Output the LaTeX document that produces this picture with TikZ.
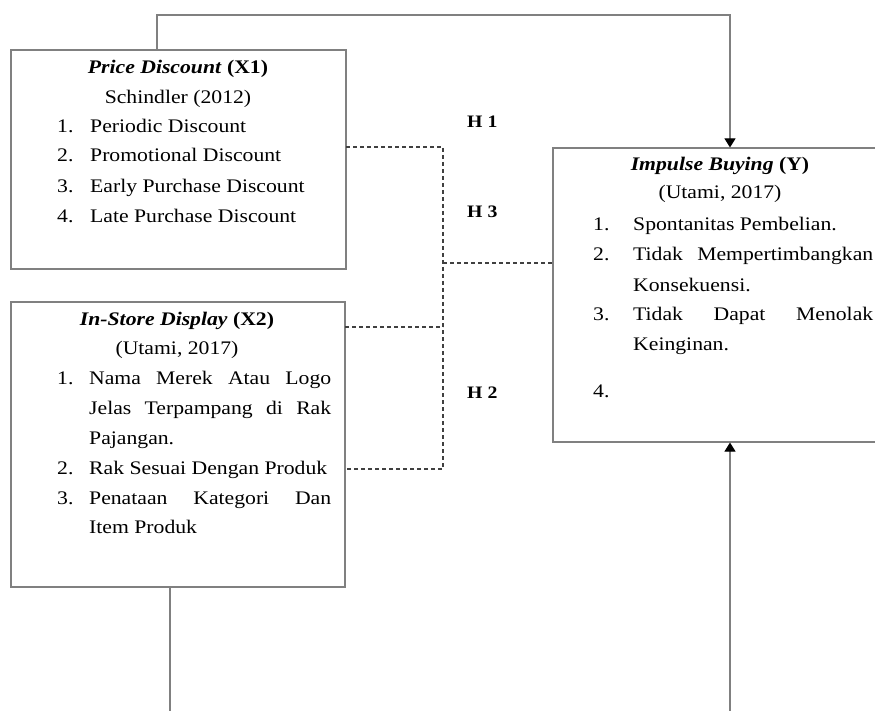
\documentclass[tikz,border=0pt]{standalone}
\usepackage{fontspec}
\setmainfont{Liberation Serif}[FakeStretch=1.13]
\usetikzlibrary{arrows.meta}
\begin{document}
\begin{tikzpicture}[x=1pt,y=-1pt,
  box/.style={draw=black!50,line width=1.1pt,inner sep=0,fill=none},
  txt/.style={anchor=base west,inner sep=0,text=black,font=\fontsize{19.2}{23}\selectfont},
  ctxt/.style={anchor=base,inner sep=0,text=black,font=\fontsize{19.2}{23}\selectfont},
  hlab/.style={anchor=base west,inner sep=0,text=black,font=\fontsize{17.5}{21}\selectfont\bfseries},
  link/.style={draw=black!50,line width=1.1pt},
  dlink/.style={draw=black!75,line width=1.1pt,dash pattern=on 4pt off 3pt},
  arr/.style={link,-{Triangle[width=11pt,length=9pt,fill=black,color=black]}}]
\useasboundingbox (0,0) rectangle (875,711);
\clip (0,0) rectangle (875,711);
\fill[white] (0,0) rectangle (875,711);

% boxes
\node[box,minimum width=335pt,minimum height=219pt] (x1) at (178.5,159.5) {};
\node[box,minimum width=334pt,minimum height=285pt] (x2) at (178,444.5) {};
\node[box,minimum width=354pt,minimum height=294pt] (y) at (730,295) {};

% X1 text
\node[ctxt] (x1t) at (178,74) {\textbf{\textit{Price Discount}} \textbf{(X1)}};
\node[ctxt] (x1s) at (178,104) {Schindler (2012)};
\node[txt] (x1n1) at (57,133) {1.};
\node[txt] (x1a) at (90,133) {Periodic Discount};
\node[txt] (x1n2) at (57,162) {2.};
\node[txt] (x1b) at (90,162) {Promotional Discount};
\node[txt] (x1n3) at (57,193) {3.};
\node[txt] (x1c) at (90,193) {Early Purchase Discount};
\node[txt] (x1n4) at (57,223) {4.};
\node[txt] (x1d) at (90,223) {Late Purchase Discount};

% X2 text
\node[ctxt] (x2t) at (177,325) {\textbf{\textit{In-Store Display}} \textbf{(X2)}};
\node[ctxt] (x2s) at (177,354) {(Utami, 2017)};
\node[txt] (x2n1) at (57,384) {1.};
\node[txt] (x2a) at (89,384) {\makebox[242pt][s]{Nama Merek Atau Logo}};
\node[txt] (x2b) at (89,414) {\makebox[242pt][s]{Jelas Terpampang di Rak}};
\node[txt] (x2c) at (89,444) {Pajangan.};
\node[txt] (x2n2) at (57,474) {2.};
\node[txt] (x2d) at (89,474) {Rak Sesuai Dengan Produk};
\node[txt] (x2n3) at (57,504) {3.};
\node[txt] (x2e) at (89,504) {\makebox[242pt][s]{Penataan Kategori Dan}};
\node[txt] (x2f) at (89,533) {Item Produk};

% Y text
\node[ctxt] (yt) at (720,171) {\textbf{\textit{Impulse Buying}} \textbf{(Y)}};
\node[ctxt] (ys) at (720,199) {(Utami, 2017)};
\node[txt] (yn1) at (593,231) {1.};
\node[txt] (ya) at (633,231) {Spontanitas Pembelian.};
\node[txt] (yn2) at (593,261) {2.};
\node[txt] (yb) at (633,261) {\makebox[240pt][s]{Tidak Mempertimbangkan}};
\node[txt] (yc) at (633,291) {Konsekuensi.};
\node[txt] (yn3) at (593,320) {3.};
\node[txt] (yd) at (633,320) {\makebox[240pt][s]{Tidak Dapat Menolak}};
\node[txt] (ye) at (633,350) {Keinginan.};
\node[txt] (yn4) at (593,397) {4.};

% hypothesis labels
\node[hlab] (h1) at (467,128) {H 1};
\node[hlab] (h3) at (467,218) {H 3};
\node[hlab] (h2) at (467,398) {H 2};

% coordinates for connectors
\coordinate (x1top) at (157,50);
\coordinate (x2bot) at (170,587);
\coordinate (d1) at (346,147);
\coordinate (d2) at (345,327);
\coordinate (d3) at (345,469);
\coordinate (dv) at (443,147);
\coordinate (dvb) at (443,469);
\coordinate (dm) at (443,263);
\coordinate (yin) at (553,263);

% solid connectors
\draw[arr] (x1top) -- (157,15) -| (y.north);
\draw[arr] (x2bot) -- (170,760) -| (y.south);

% dashed connectors
\draw[dlink] (d1) -- (dv) -- (dvb) -- (d3);
\draw[dlink] (d2) -- (d2 -| dv);
\draw[dlink] (dm) -- (yin);
\end{tikzpicture}
\end{document}
